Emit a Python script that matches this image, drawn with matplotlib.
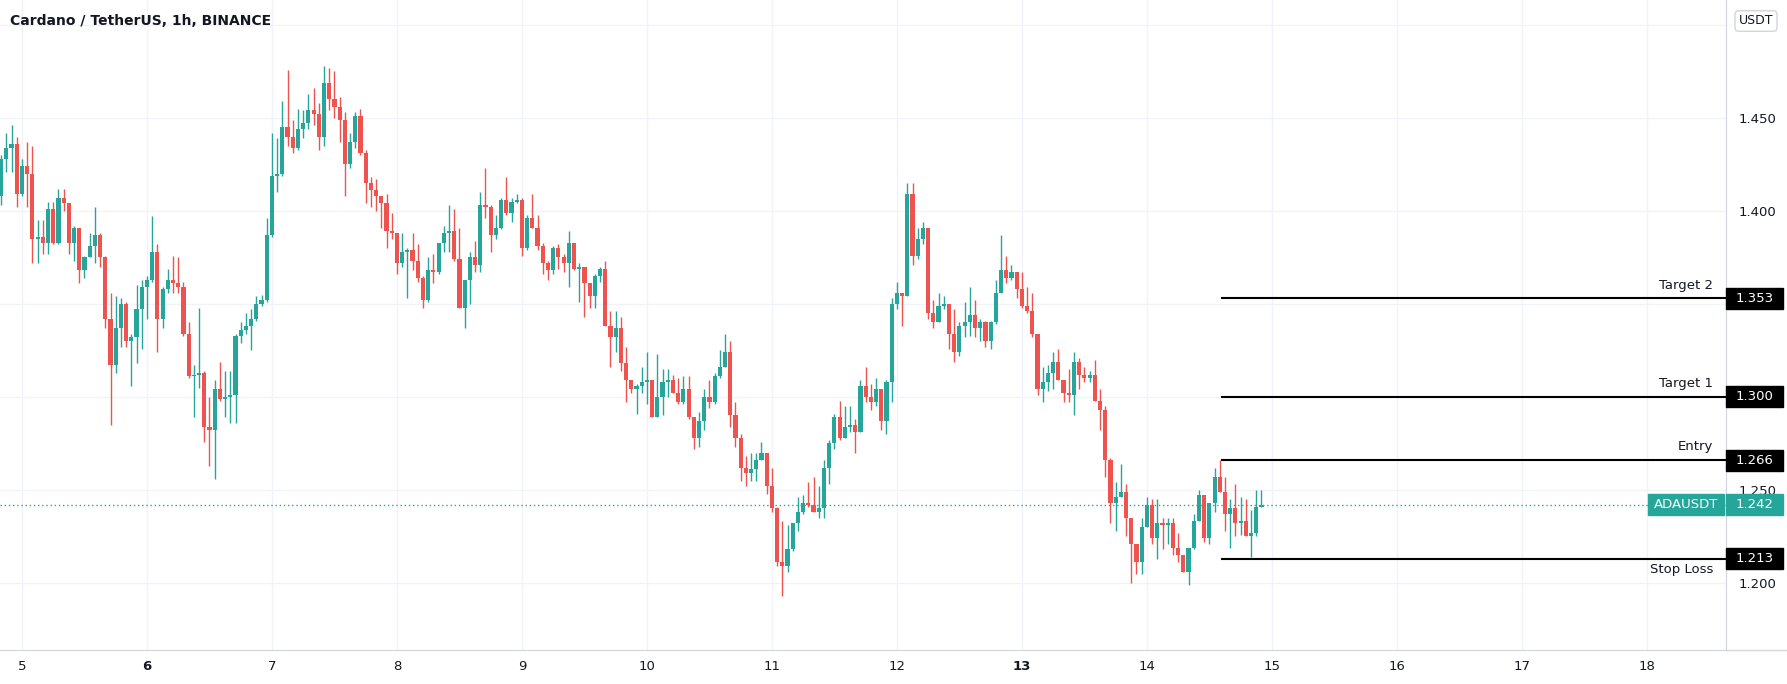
import numpy as np
import matplotlib
matplotlib.use('Agg')
import matplotlib.pyplot as plt
import matplotlib.transforms as mtransforms
from matplotlib.patches import Rectangle
from matplotlib.lines import Line2D

# ADAUSDT 1h candles, first one is 4 Sep 20:00 (hour -4 from 5 Sep 00:00)
first_hour = -4
first_open = 1.408
closes = [
    1.428, 1.434, 1.436, 1.409,
    # 5
    1.424, 1.420, 1.385, 1.386, 1.383, 1.401, 1.383, 1.407, 1.404, 1.383, 1.391, 1.368,
    1.375, 1.381, 1.387, 1.375, 1.342, 1.317, 1.337, 1.350, 1.330, 1.332, 1.347, 1.359,
    # 6
    1.363, 1.378, 1.342, 1.358, 1.363, 1.361, 1.359, 1.334, 1.311, 1.312, 1.313, 1.284,
    1.282, 1.304, 1.299, 1.300, 1.301, 1.333, 1.336, 1.338, 1.342, 1.350, 1.352, 1.387,
    # 7
    1.419, 1.420, 1.445, 1.440, 1.434, 1.444, 1.447, 1.454, 1.452, 1.440, 1.469, 1.460,
    1.456, 1.449, 1.425, 1.437, 1.451, 1.431, 1.415, 1.411, 1.408, 1.404, 1.389, 1.388,
    # 8
    1.372, 1.378, 1.379, 1.373, 1.364, 1.352, 1.368, 1.367, 1.383, 1.388, 1.389, 1.374,
    1.348, 1.363, 1.375, 1.371, 1.403, 1.402, 1.387, 1.391, 1.406, 1.399, 1.405, 1.406,
    # 9
    1.380, 1.396, 1.391, 1.381, 1.372, 1.368, 1.380, 1.375, 1.372, 1.383, 1.369, 1.370,
    1.361, 1.354, 1.365, 1.369, 1.338, 1.332, 1.337, 1.318, 1.309, 1.304, 1.306, 1.308,
    # 10
    1.309, 1.289, 1.300, 1.308, 1.309, 1.302, 1.297, 1.304, 1.289, 1.278, 1.287, 1.300,
    1.297, 1.311, 1.316, 1.324, 1.290, 1.278, 1.262, 1.259, 1.261, 1.266, 1.270, 1.252,
    # 11
    1.240, 1.211, 1.209, 1.218, 1.232, 1.238, 1.243, 1.242, 1.238, 1.240, 1.262, 1.275,
    1.289, 1.278, 1.284, 1.285, 1.281, 1.306, 1.300, 1.297, 1.304, 1.287, 1.308, 1.350,
    # 12
    1.356, 1.354, 1.409, 1.376, 1.385, 1.391, 1.345, 1.340, 1.349, 1.350, 1.334, 1.324,
    1.338, 1.340, 1.344, 1.337, 1.340, 1.330, 1.340, 1.356, 1.368, 1.364, 1.367, 1.358,
    # 13
    1.349, 1.346, 1.334, 1.304, 1.308, 1.313, 1.319, 1.309, 1.302, 1.301, 1.319, 1.312,
    1.310, 1.312, 1.298, 1.293, 1.266, 1.243, 1.246, 1.249, 1.235, 1.221, 1.211, 1.230,
    # 14
    1.242, 1.224, 1.232, 1.231, 1.232, 1.219, 1.215, 1.206, 1.219, 1.233, 1.247, 1.224,
    1.243, 1.257, 1.249, 1.237, 1.240, 1.232, 1.233, 1.225, 1.227, 1.241, 1.242,
]
highs = [
    1.430, 1.442, 1.446, 1.440,
    1.428, 1.437, 1.435, 1.395, 1.395, 1.405, 1.405, 1.412, 1.412, 1.404, 1.392, 1.391,
    1.376, 1.388, 1.402, 1.388, 1.376, 1.356, 1.354, 1.353, 1.351, 1.334, 1.360, 1.363,
    1.365, 1.397, 1.382, 1.359, 1.369, 1.376, 1.375, 1.362, 1.340, 1.317, 1.348, 1.314,
    1.300, 1.309, 1.319, 1.314, 1.314, 1.334, 1.340, 1.345, 1.347, 1.354, 1.355, 1.396,
    1.442, 1.439, 1.459, 1.476, 1.449, 1.455, 1.454, 1.463, 1.466, 1.458, 1.478, 1.477,
    1.475, 1.461, 1.453, 1.442, 1.453, 1.455, 1.433, 1.418, 1.417, 1.408, 1.409, 1.399,
    1.388, 1.388, 1.380, 1.388, 1.382, 1.365, 1.375, 1.377, 1.383, 1.392, 1.403, 1.401,
    1.391, 1.363, 1.378, 1.384, 1.410, 1.423, 1.403, 1.398, 1.407, 1.418, 1.407, 1.409,
    1.407, 1.398, 1.409, 1.398, 1.383, 1.373, 1.381, 1.382, 1.377, 1.389, 1.383, 1.372,
    1.369, 1.361, 1.366, 1.370, 1.373, 1.346, 1.346, 1.343, 1.327, 1.309, 1.307, 1.316,
    1.324, 1.309, 1.323, 1.315, 1.315, 1.312, 1.310, 1.311, 1.311, 1.289, 1.292, 1.304,
    1.309, 1.313, 1.325, 1.334, 1.330, 1.297, 1.280, 1.268, 1.270, 1.270, 1.276, 1.270,
    1.262, 1.241, 1.233, 1.231, 1.232, 1.246, 1.247, 1.254, 1.257, 1.252, 1.266, 1.277,
    1.291, 1.298, 1.295, 1.295, 1.288, 1.309, 1.316, 1.307, 1.310, 1.304, 1.309, 1.353,
    1.362, 1.356, 1.415, 1.415, 1.391, 1.394, 1.391, 1.352, 1.356, 1.354, 1.350, 1.347,
    1.340, 1.351, 1.359, 1.352, 1.342, 1.341, 1.341, 1.363, 1.387, 1.376, 1.371, 1.367,
    1.367, 1.359, 1.356, 1.334, 1.316, 1.317, 1.324, 1.326, 1.309, 1.315, 1.324, 1.321,
    1.316, 1.314, 1.320, 1.304, 1.295, 1.267, 1.254, 1.264, 1.253, 1.235, 1.221, 1.235,
    1.246, 1.245, 1.245, 1.235, 1.235, 1.235, 1.227, 1.215, 1.219, 1.237, 1.250, 1.246,
    1.243, 1.262, 1.266, 1.257, 1.245, 1.253, 1.246, 1.245, 1.239, 1.250, 1.250,
]
lows = [
    1.403, 1.421, 1.421, 1.402,
    1.408, 1.402, 1.372, 1.372, 1.377, 1.377, 1.382, 1.382, 1.400, 1.377, 1.373, 1.361,
    1.364, 1.375, 1.372, 1.370, 1.337, 1.285, 1.313, 1.327, 1.327, 1.306, 1.318, 1.326,
    1.342, 1.362, 1.324, 1.337, 1.356, 1.356, 1.356, 1.333, 1.310, 1.289, 1.305, 1.276,
    1.263, 1.256, 1.298, 1.289, 1.286, 1.286, 1.329, 1.334, 1.325, 1.341, 1.349, 1.351,
    1.386, 1.410, 1.419, 1.435, 1.431, 1.433, 1.439, 1.444, 1.446, 1.433, 1.435, 1.454,
    1.450, 1.437, 1.408, 1.423, 1.434, 1.430, 1.404, 1.402, 1.400, 1.391, 1.380, 1.385,
    1.366, 1.370, 1.353, 1.368, 1.362, 1.348, 1.351, 1.361, 1.366, 1.378, 1.378, 1.373,
    1.348, 1.337, 1.350, 1.367, 1.367, 1.396, 1.378, 1.385, 1.390, 1.398, 1.394, 1.404,
    1.376, 1.379, 1.391, 1.379, 1.366, 1.363, 1.366, 1.369, 1.367, 1.359, 1.368, 1.351,
    1.343, 1.348, 1.348, 1.362, 1.338, 1.316, 1.324, 1.314, 1.297, 1.302, 1.291, 1.302,
    1.296, 1.289, 1.289, 1.290, 1.300, 1.302, 1.296, 1.296, 1.288, 1.272, 1.273, 1.282,
    1.294, 1.296, 1.310, 1.316, 1.284, 1.273, 1.255, 1.252, 1.255, 1.255, 1.266, 1.248,
    1.238, 1.209, 1.193, 1.206, 1.217, 1.228, 1.237, 1.241, 1.238, 1.235, 1.235, 1.253,
    1.272, 1.277, 1.278, 1.281, 1.270, 1.281, 1.297, 1.293, 1.295, 1.282, 1.280, 1.297,
    1.347, 1.338, 1.354, 1.371, 1.374, 1.382, 1.342, 1.337, 1.340, 1.347, 1.326, 1.319,
    1.322, 1.332, 1.333, 1.332, 1.330, 1.327, 1.326, 1.339, 1.356, 1.361, 1.363, 1.353,
    1.348, 1.345, 1.332, 1.301, 1.297, 1.303, 1.304, 1.309, 1.297, 1.297, 1.290, 1.304,
    1.308, 1.308, 1.298, 1.282, 1.257, 1.232, 1.228, 1.246, 1.225, 1.200, 1.205, 1.205,
    1.230, 1.221, 1.213, 1.218, 1.221, 1.215, 1.211, 1.206, 1.199, 1.218, 1.233, 1.222,
    1.221, 1.238, 1.249, 1.228, 1.219, 1.225, 1.226, 1.225, 1.214, 1.225, 1.241,
]

day_labels = ['5', '6', '7', '8', '9', '10', '11', '12', '13', '14', '15', '16', '17', '18']
bold_days = ['6', '13']
price_ticks = [1.20, 1.25, 1.30, 1.35, 1.40, 1.45, 1.50]
level_values = [1.353, 1.300, 1.266, 1.213]
level_names = ['Target 2', 'Target 1', 'Entry', 'Stop Loss']
last_price = 1.242
symbol = 'ADAUSDT'
title = 'Cardano / TetherUS, 1h, BINANCE'

UP = '#26a69a'
DOWN = '#ef5350'
TXT = '#131722'
GRID = '#f0f3fa'
EDGE = '#d1d4dc'

closes = np.array(closes)
opens = np.concatenate([[first_open], closes[:-1]])
highs = np.maximum(np.array(highs), np.maximum(opens, closes))
lows = np.minimum(np.array(lows), np.minimum(opens, closes))
x = np.arange(len(closes)) + first_hour
colors = np.where(closes >= opens, UP, DOWN)

W, H = 1787, 684
fig = plt.figure(figsize=(W / 100, H / 100), dpi=100)
ax = fig.add_axes([0, 34 / H, 1726 / W, 650 / H])
ax.set_xlim(-4.22, 327.2)
ax.set_ylim(1.1639, 1.5134)

# candles
ax.vlines(x, lows, highs, colors=colors, lw=1, zorder=3)
body = np.maximum(np.abs(closes - opens), 0.0005)
ax.bar(x, body, bottom=np.minimum(opens, closes), width=0.8, color=colors,
       linewidth=0, zorder=4)

# axes / grid
day_pos = [i * 24 for i in range(len(day_labels))]
ax.set_xticks(day_pos)
ax.set_xticklabels(day_labels)
for lab in ax.get_xticklabels():
    if lab.get_text() in bold_days:
        lab.set_fontweight('bold')
ax.set_yticks(price_ticks)
# 1.350 sits under the Target 2 price box, so leave it blank
ax.set_yticklabels(['' if abs(p - 1.35) < 1e-9 else '%.3f' % p for p in price_ticks])
ax.yaxis.tick_right()
ax.tick_params(axis='x', length=0, pad=7, labelsize=9.5, labelcolor=TXT)
ax.tick_params(axis='y', length=0, pad=9, labelsize=9.5, labelcolor=TXT)
ax.grid(color=GRID, lw=1)
for s in ['top', 'left']:
    ax.spines[s].set_visible(False)
ax.spines['right'].set_color(EDGE)
ax.spines['bottom'].set_color(EDGE)
fig.add_artist(Line2D([1726 / W, 1], [34 / H, 34 / H], color=EDGE, lw=1))

# last price line
ax.axhline(last_price, color=UP, ls=(0, (1, 2)), lw=1, zorder=2)

# trade levels
ax.hlines(level_values, 230.2, 327.2, colors='black', lw=1.5, zorder=5)
for name, val in zip(level_names, level_values):
    off = -7.5 if name == 'Stop Loss' else 9.5
    ax.annotate(name, (324.7, val), xytext=(0, off), textcoords='offset points',
                ha='right', va='center', fontsize=9.5, color=TXT, zorder=6)

trans = mtransforms.blended_transform_factory(ax.transAxes, ax.transData)
bh = 21 / 1860
bx0, bw = 1.0, 57 / 1726
for val in level_values:
    ax.add_patch(Rectangle((bx0, val - bh / 2), bw, bh, transform=trans,
                           color='black', clip_on=False, zorder=7))
    ax.text(bx0 + bw / 2, val, '%.3f' % val, transform=trans, ha='center',
            va='center', fontsize=9.5, color='white', clip_on=False, zorder=8)

ax.add_patch(Rectangle((bx0, last_price - bh / 2), bw, bh, transform=trans,
                       color=UP, clip_on=False, zorder=7))
ax.text(bx0 + bw / 2, last_price, '%.3f' % last_price, transform=trans,
        ha='center', va='center', fontsize=9.5, color='white', clip_on=False, zorder=8)
sx0, sw = 1648 / 1726, 76 / 1726
ax.add_patch(Rectangle((sx0, last_price - bh / 2), sw, bh, transform=trans,
                       color=UP, clip_on=False, zorder=7))
ax.text(sx0 + sw / 2, last_price, symbol, transform=trans, ha='center',
        va='center', fontsize=9.5, color='white', clip_on=False, zorder=8)

# header
fig.text(10 / W, 1 - 21 / H, title, ha='left', va='center', fontsize=10,
         fontweight='bold', color=TXT)
fig.text(1756 / W, 1 - 21 / H, 'USDT', ha='center', va='center', fontsize=9,
         color=TXT, zorder=10,
         bbox=dict(boxstyle='round,pad=0.3', fc='white', ec=EDGE, lw=1))

fig.savefig('out.png', dpi=100)
